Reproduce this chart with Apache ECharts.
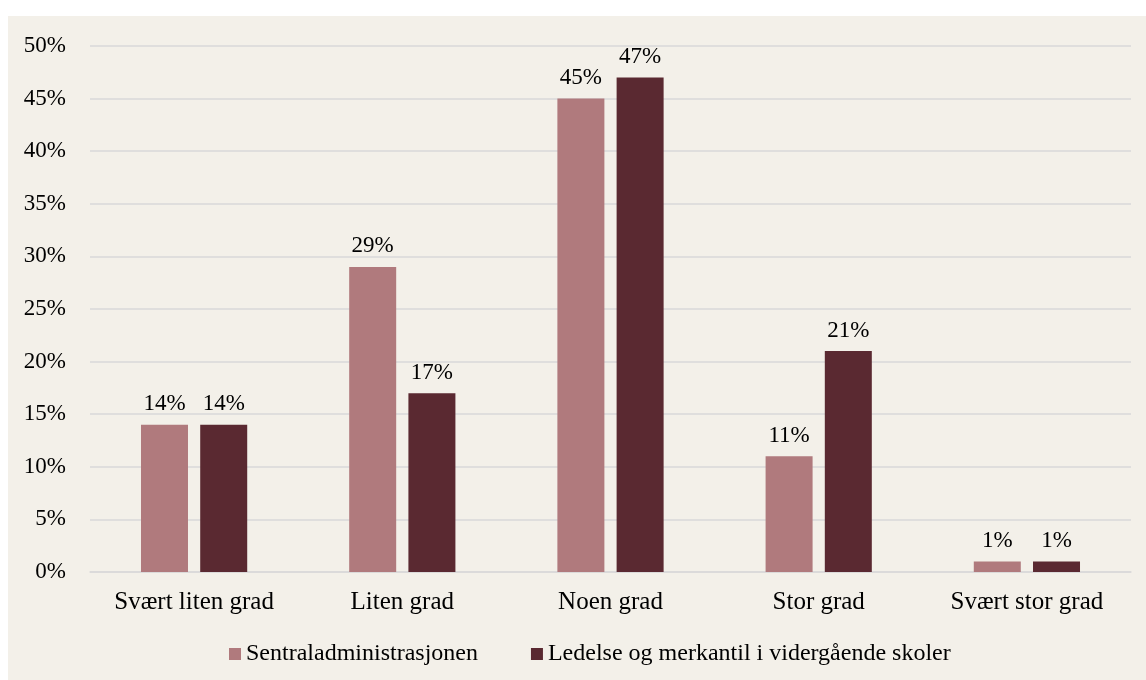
<!DOCTYPE html>
<html>
<head>
<meta charset="utf-8">
<script src="https://cdn.jsdelivr.net/npm/echarts@6/dist/echarts.min.js"></script>
<style>
  html, body { margin: 0; padding: 0; background: #ffffff; }
  #chart { position: absolute; left: 8px; top: 16px; width: 1138px; height: 664px; background: #f3f0e9; }
</style>
</head>
<body>
<div id="chart"></div>
<script>
// Grad av enighet, andel svar per gruppe
const categories = ['Svært liten grad', 'Liten grad', 'Noen grad', 'Stor grad', 'Svært stor grad'];
const seriesNames = ['Sentraladministrasjonen', 'Ledelse og merkantil i vidergående skoler'];
const sentraladm = [14, 29, 45, 11, 1];
const ledelse = [14, 17, 47, 21, 1];
const colors = ['#b07a7d', '#5a2931'];

const FONT = 'Liberation Serif';
const chart = echarts.init(document.getElementById('chart'));

const labelCfg = {
  show: true,
  position: 'top',
  distance: 9,
  formatter: p => p.value + '%',
  fontFamily: FONT,
  fontSize: 23,
  color: '#000'
};

chart.setOption({
  animation: false,
  textStyle: { fontFamily: FONT },
  grid: { left: 82, right: 15, top: 30, bottom: 108 },
  legend: {
    data: seriesNames,
    left: 216,
    top: 621,
    itemWidth: 12,
    itemHeight: 12,
    itemGap: 53,
    icon: 'rect',
    textStyle: { fontFamily: FONT, fontSize: 24, color: '#000' }
  },
  xAxis: {
    type: 'category',
    data: categories,
    axisLine: { lineStyle: { color: '#d9d9d9', width: 1.5 } },
    axisTick: { show: false },
    axisLabel: { fontFamily: FONT, fontSize: 25, color: '#000', margin: 18 }
  },
  yAxis: {
    type: 'value',
    min: 0,
    max: 50,
    interval: 5,
    axisLine: { show: false },
    axisTick: { show: false },
    splitLine: { lineStyle: { color: '#d9d9d9', width: 1.5 } },
    axisLabel: { fontFamily: FONT, fontSize: 23, color: '#000', margin: 24, formatter: v => v + '%' }
  },
  series: [
    {
      name: seriesNames[0],
      type: 'bar',
      data: sentraladm,
      barWidth: 47,
      barGap: '26%',
      itemStyle: { color: colors[0] },
      label: labelCfg
    },
    {
      name: seriesNames[1],
      type: 'bar',
      data: ledelse,
      barWidth: 47,
      barGap: '26%',
      itemStyle: { color: colors[1] },
      label: labelCfg
    }
  ]
});
</script>
</body>
</html>
